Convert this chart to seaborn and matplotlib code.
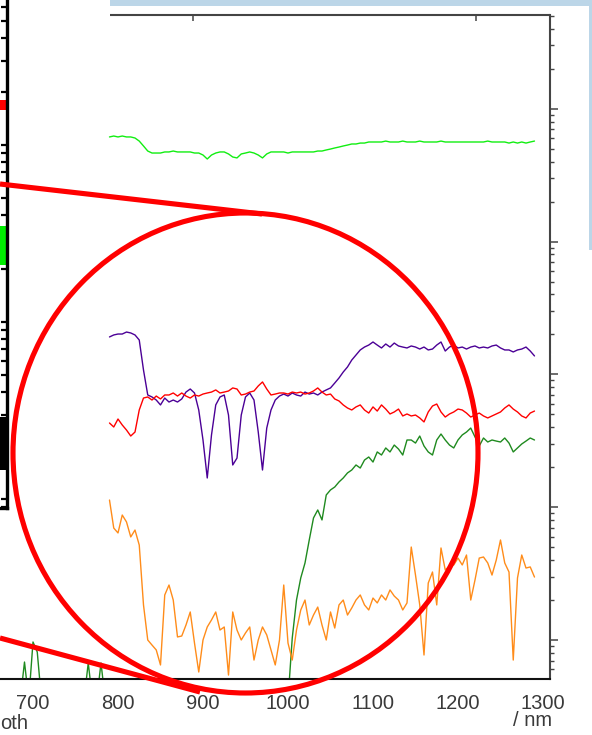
import numpy as np
import pandas as pd
import matplotlib
matplotlib.use("Agg")
import matplotlib.pyplot as plt
import seaborn as sns
from matplotlib.ticker import LogLocator, MultipleLocator, NullFormatter, FixedLocator
from matplotlib.patches import Ellipse, Rectangle
from matplotlib.lines import Line2D

sns.set_theme(style="white")
plt.rcParams['font.family'] = ['Liberation Sans', 'DejaVu Sans']

# ---------------- data ----------------
wavelength_nm = np.arange(790, 1291, 5)      # 101 points, shared by 4 series
wavelength_green = np.arange(660, 1291, 5)   # 127 points, dark green series

# values stored as log10 of the (unlabelled) intensity
lime_log10 = [
    3.788, 3.795, 3.788, 3.795, 3.788, 3.788, 3.780, 3.757, 3.720, 3.682,
    3.667, 3.667, 3.667, 3.675, 3.675, 3.682, 3.675, 3.675, 3.675, 3.675,
    3.667, 3.667, 3.652, 3.622, 3.652, 3.667, 3.675, 3.675, 3.660, 3.637,
    3.630, 3.660, 3.667, 3.675, 3.667, 3.652, 3.630, 3.660, 3.675, 3.675,
    3.675, 3.675, 3.667, 3.675, 3.675, 3.675, 3.675, 3.675, 3.675, 3.682,
    3.682, 3.690, 3.697, 3.705, 3.712, 3.720, 3.727, 3.735, 3.735, 3.742,
    3.742, 3.750, 3.750, 3.750, 3.750, 3.757, 3.750, 3.750, 3.750, 3.757,
    3.750, 3.750, 3.750, 3.757, 3.750, 3.750, 3.750, 3.750, 3.757, 3.750,
    3.750, 3.750, 3.750, 3.750, 3.750, 3.750, 3.750, 3.750, 3.750, 3.757,
    3.750, 3.750, 3.750, 3.750, 3.742, 3.750, 3.742, 3.750, 3.742, 3.750,
    3.757]

indigo_log10 = [
    2.282, 2.297, 2.304, 2.304, 2.319, 2.312, 2.297, 2.259, 2.033, 1.845,
    1.830, 1.807, 1.770, 1.822, 1.792, 1.807, 1.792, 1.815, 1.867, 1.890,
    1.860, 1.732, 1.506, 1.220, 1.544, 1.770, 1.830, 1.845, 1.694, 1.318,
    1.370, 1.694, 1.830, 1.860, 1.807, 1.566, 1.280, 1.596, 1.732, 1.807,
    1.837, 1.852, 1.837, 1.860, 1.845, 1.837, 1.867, 1.852, 1.860, 1.845,
    1.867, 1.883, 1.898, 1.935, 1.973, 2.018, 2.056, 2.108, 2.146, 2.184,
    2.206, 2.221, 2.244, 2.221, 2.199, 2.229, 2.206, 2.236, 2.214, 2.206,
    2.199, 2.214, 2.206, 2.191, 2.206, 2.184, 2.191, 2.221, 2.244, 2.176,
    2.206, 2.221, 2.199, 2.206, 2.191, 2.206, 2.214, 2.199, 2.206, 2.199,
    2.214, 2.221, 2.199, 2.184, 2.184, 2.169, 2.184, 2.191, 2.206, 2.176,
    2.139]

red_log10 = [
    1.634, 1.604, 1.664, 1.619, 1.581, 1.536, 1.566, 1.732, 1.822, 1.830,
    1.807, 1.837, 1.815, 1.845, 1.845, 1.860, 1.837, 1.860, 1.837, 1.822,
    1.845, 1.837, 1.852, 1.860, 1.867, 1.883, 1.860, 1.867, 1.875, 1.898,
    1.890, 1.845, 1.852, 1.867, 1.875, 1.913, 1.943, 1.890, 1.845, 1.852,
    1.860, 1.860, 1.852, 1.867, 1.860, 1.867, 1.852, 1.860, 1.875, 1.898,
    1.867, 1.845, 1.852, 1.815, 1.800, 1.770, 1.747, 1.732, 1.755, 1.770,
    1.732, 1.709, 1.755, 1.724, 1.770, 1.739, 1.702, 1.717, 1.739, 1.687,
    1.702, 1.687, 1.694, 1.672, 1.642, 1.717, 1.762, 1.777, 1.717, 1.679,
    1.702, 1.717, 1.739, 1.732, 1.709, 1.679, 1.694, 1.709, 1.687, 1.672,
    1.687, 1.702, 1.717, 1.747, 1.770, 1.739, 1.717, 1.687, 1.672, 1.709,
    1.724]

green_log10 = [
    -0.45, -0.45, -0.45, -0.45, -0.45, -0.45, -0.166, -0.45, -0.015, -0.090,
    -0.45, -0.45, -0.45, -0.45, -0.45, -0.45, -0.45, -0.45, -0.45, -0.45,
    -0.45, -0.173, -0.45, -0.45, -0.173, -0.45,
    -0.45, -0.45, -0.45, -0.45, -0.45, -0.45, -0.45, -0.45, -0.45, -0.45,
    -0.45, -0.45, -0.45, -0.45, -0.45, -0.45, -0.45, -0.45, -0.45, -0.45,
    -0.45, -0.45, -0.45, -0.45, -0.45, -0.45, -0.45, -0.45, -0.45, -0.45,
    -0.45, -0.45, -0.45, -0.45, -0.45, -0.45, -0.45, -0.45, -0.45, -0.45,
    -0.45, -0.45, -0.45, 0.015, 0.301, 0.467, 0.580, 0.753, 0.919, 0.979,
    0.904, 1.092, 1.130, 1.152, 1.190, 1.220, 1.258, 1.280, 1.318, 1.295,
    1.355, 1.378, 1.340, 1.416, 1.393, 1.446, 1.416, 1.468, 1.438, 1.393,
    1.506, 1.506, 1.483, 1.536, 1.461, 1.416, 1.393, 1.506, 1.551, 1.506,
    1.468, 1.446, 1.506, 1.544, 1.566, 1.596, 1.529, 1.461, 1.521, 1.491,
    1.506, 1.498, 1.491, 1.521, 1.483, 1.416, 1.446, 1.476, 1.498, 1.521,
    1.506]

orange_log10 = [
    1.054, 0.843, 0.806, 0.941, 0.889, 0.776, 0.828, 0.715, 0.264, 0.000,
    -0.038, -0.075, -0.188, 0.339, 0.414, 0.301, 0.023, 0.030, 0.113, 0.211,
    -0.023, -0.241, 0.000, 0.098, 0.151, 0.211, 0.075, 0.098, -0.264, 0.211,
    0.075, 0.000, 0.053, 0.098, -0.151, 0.000, 0.098, 0.038, -0.075, -0.188,
    0.000, 0.414, -0.023, -0.151, 0.075, 0.226, 0.301, 0.113, 0.188, 0.248,
    0.113, 0.000, 0.211, 0.090, 0.264, 0.301, 0.188, 0.241, 0.301, 0.339,
    0.264, 0.226, 0.316, 0.279, 0.339, 0.301, 0.377, 0.331, 0.301, 0.226,
    0.279, 0.700, 0.489, 0.264, -0.113, 0.429, 0.512, 0.264, 0.693, 0.527,
    0.557, 0.565, 0.617, 0.565, 0.640, 0.301, 0.452, 0.617, 0.625, 0.580,
    0.489, 0.602, 0.753, 0.580, 0.512, -0.151, 0.467, 0.640, 0.542, 0.550,
    0.474]

x_ticks = [700, 800, 900, 1000, 1100, 1200, 1300]
x_label_unit = "/ nm"
cut_label = "oth"

# inset-box (left edge of the underlying chart) spans, in its own log units
box_green_span = (21, 35)
box_red_span = (158, 179)
box_black_span = (1.46, 2.9)

series = [
    ("darkgreen", wavelength_green, green_log10, "#1f8a1f"),
    ("orange", wavelength_nm, orange_log10, "#ff8c1a"),
    ("lime", wavelength_nm, lime_log10, "#11ee11"),
    ("indigo", wavelength_nm, indigo_log10, "#4b0096"),
    ("red", wavelength_nm, red_log10, "#ff0000"),
]

# ---------------- figure ----------------
W, H = 592, 735
fig = plt.figure(figsize=(W / 100, H / 100), dpi=100)
fig.patch.set_facecolor("white")

ax = fig.add_axes([0, 1 - 679 / H, 550 / W, 664 / H])
ax.set_facecolor("white")
for name, xs, logs, col in series:
    df = pd.DataFrame({"nm": xs, "value": 10 ** np.asarray(logs)})
    sns.lineplot(data=df, x="nm", y="value", color=col, lw=1.0,
                 estimator=None, ax=ax)

ax.set_yscale("log")
ax.set_xlim(661.18, 1308.24)
ax.set_ylim(10 ** -0.2937, 10 ** 4.7063)
ax.set_xlabel("")
ax.set_ylabel("")
ax.grid(False)

ax.spines["left"].set_visible(False)
ax.spines["top"].set_visible(False)
ax.spines["bottom"].set_color("#111111")
ax.spines["bottom"].set_linewidth(1.5)
ax.spines["right"].set_color("#444444")
ax.spines["right"].set_linewidth(1.5)

ax.xaxis.set_major_locator(FixedLocator(x_ticks))
ax.xaxis.set_minor_locator(MultipleLocator(10))
ax.set_xticklabels([str(t) for t in x_ticks])
ax.tick_params(axis="x", which="major", direction="out", length=8, width=1.1,
               color="#111111", labelsize=14.5, labelcolor="#3a3a3a", pad=3)
ax.tick_params(axis="x", which="minor", direction="out", length=4.3, width=1.0,
               color="#111111")

ax.yaxis.tick_right()
ax.yaxis.set_major_locator(LogLocator(base=10, numticks=30))
ax.yaxis.set_minor_locator(LogLocator(base=10, subs=np.arange(2, 10), numticks=30))
ax.yaxis.set_major_formatter(NullFormatter())
ax.yaxis.set_minor_formatter(NullFormatter())
ax.tick_params(axis="y", which="major", direction="out", length=5.5, width=1.1,
               color="#444444", right=True, left=False, labelright=False, labelleft=False)
ax.tick_params(axis="y", which="minor", direction="out", length=3.2, width=1.0,
               color="#444444", right=True, left=False)

# partial top spine with two inward ticks
ax.plot([110 / 550, 1], [1, 1], transform=ax.transAxes, color="#444444",
        lw=1.5, clip_on=False, solid_capstyle="butt")
sec = ax.secondary_xaxis("top")
sec.xaxis.set_major_locator(FixedLocator([888.2, 1221.2]))
sec.xaxis.set_minor_locator(FixedLocator([]))
sec.tick_params(axis="x", direction="in", length=4.5, width=1.1, color="#444444",
                labeltop=False)
for s in sec.spines.values():
    s.set_visible(False)

# ---------------- left box (edge of underlying chart) ----------------
bx = fig.add_axes([0, 1 - 508 / H, 6.5 / W, 508 / H])
bx.set_facecolor("white")
bx.set_yscale("log")
bx.set_xlim(0, 1)
bx.set_ylim(10 ** -0.051, 10 ** 2.819)
bx.axhspan(*box_green_span, xmin=0, xmax=0.95, color="#00ee00", lw=0)
bx.axhspan(*box_red_span, xmin=0, xmax=1.0, color="#ff0000", lw=0)
bx.axhspan(*box_black_span, xmin=0, xmax=1.0, color="black", lw=0)
for k in ["left", "top"]:
    bx.spines[k].set_visible(False)
for k in ["right", "bottom"]:
    bx.spines[k].set_color("black")
    bx.spines[k].set_linewidth(2.4)
bx.set_xticks([])
bx.yaxis.tick_right()
bx.yaxis.set_major_locator(LogLocator(base=10, numticks=30))
bx.yaxis.set_minor_locator(LogLocator(base=10, subs=np.arange(2, 10), numticks=30))
bx.yaxis.set_major_formatter(NullFormatter())
bx.yaxis.set_minor_formatter(NullFormatter())
bx.tick_params(axis="y", which="both", direction="in", length=4.5, width=1.6,
               color="black", right=True, left=False, labelright=False)
bx.grid(False)

# ---------------- overlay: magnifier circle, frame bits, texts ----------------
ov = fig.add_axes([0, 0, 1, 1])
ov.set_xlim(0, W)
ov.set_ylim(H, 0)
ov.axis("off")
ov.patch.set_alpha(0)

ov.add_patch(Rectangle((110, 0), W - 110, 6, color="#bcd6e8", lw=0))
ov.add_patch(Rectangle((589, 0), 3, 250, color="#bcd6e8", lw=0))

ov.add_patch(Ellipse((245.5, 453), 465, 480, fill=False, ec="#ff0000", lw=3.7))
ov.add_line(Line2D([0, 262], [184, 214], color="#ff0000", lw=3.7, solid_capstyle="butt"))
ov.add_line(Line2D([0, 200], [638, 692], color="#ff0000", lw=3.7, solid_capstyle="butt"))

ov.text(0, 729, cut_label, ha="left", va="baseline", fontsize=14.5, color="#3a3a3a")
ov.text(552, 726, x_label_unit, ha="right", va="baseline", fontsize=14.5, color="#3a3a3a")

fig.savefig("out.png", dpi=100)
